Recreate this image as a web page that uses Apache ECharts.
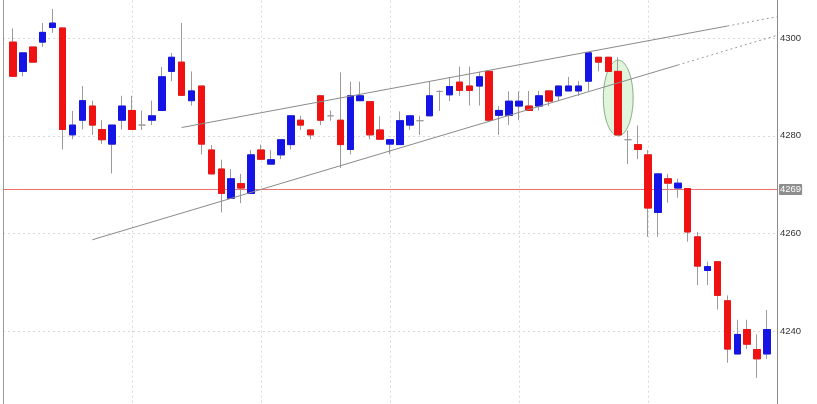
<!DOCTYPE html>
<html><head><meta charset="utf-8">
<script src="https://cdn.jsdelivr.net/npm/echarts@6/dist/echarts.min.js"></script>
<style>html,body{margin:0;padding:0;background:#fff;overflow:hidden;width:817px;height:404px}
#c{position:absolute;left:0;top:-60px;width:817px;height:490px}</style>
</head><body><div id="c"></div>
<script>
// ---- data ----
const categories = ['1','2','3','4','5','6','7','8','9','10','11','12','13','14','15','16','17','18','19','20',
 '21','22','23','24','25','26','27','28','29','30','31','32','33','34','35','36','37','38','39','40',
 '41','42','43','44','45','46','47','48','49','50','51','52','53','54','55','56','57','58','59','60',
 '61','62','63','64','65','66','67','68','69','70','71','72','73','74','75','76','77'];
const opens = [4299.2,4293.2,4298.2,4299.2,4302.2,4302.1,4280.2,4283.2,4286.1,4281.3,
 4278.3,4283.2,4285.2,4282.2,4283.2,4285.2,4293.2,4295.1,4287.2,4290.2,
 4277.1,4273.2,4267.2,4270.2,4268.2,4277.1,4274.2,4276.1,4278.2,4283.2,
 4281.2,4288.2,4284.1,4283.2,4277.2,4287.2,4287.0,4281.2,4278.3,4278.2,
 4282.2,4283.1,4284.1,4289.1,4288.4,4291.0,4290.2,4290.2,4293.2,4284.2,
 4284.2,4286.1,4286.1,4286.1,4289.2,4288.2,4289.2,4289.2,4291.2,4296.1,
 4296.1,4293.2,4279.2,4278.2,4276.1,4264.3,4271.2,4269.3,4269.2,4259.3,
 4252.4,4254.2,4246.2,4235.3,4240.3,4236.2,4235.3];
const closes = [4292.2,4297.0,4295.1,4301.2,4303.1,4281.3,4282.2,4287.2,4282.2,4279.2,
 4282.2,4286.1,4281.3,4282.2,4284.1,4292.1,4296.1,4288.3,4289.2,4278.3,
 4272.2,4268.2,4271.2,4269.3,4276.1,4275.2,4275.1,4279.2,4284.1,4282.2,
 4280.2,4283.2,4284.1,4278.2,4288.2,4288.2,4280.2,4279.3,4279.2,4283.1,
 4284.1,4283.1,4288.2,4289.1,4290.1,4289.3,4289.3,4292.1,4283.2,4285.2,
 4287.1,4287.1,4285.2,4288.2,4287.1,4290.2,4290.2,4290.2,4297.0,4295.1,
 4293.2,4280.2,4279.2,4277.2,4265.2,4272.2,4270.3,4270.3,4260.3,4253.3,
 4253.2,4247.3,4236.3,4239.3,4237.3,4234.3,4240.3];
const lows = [4292.2,4292.2,4295.1,4298.2,4301.1,4277.2,4279.3,4281.3,4280.2,4278.3,
 4272.3,4281.3,4281.3,4281.2,4282.2,4285.2,4291.2,4288.3,4286.2,4276.2,
 4272.2,4264.3,4267.2,4266.2,4268.2,4275.2,4274.2,4275.2,4277.2,4281.2,
 4279.3,4282.2,4283.1,4273.4,4276.2,4287.2,4279.3,4279.3,4276.2,4278.2,
 4281.2,4280.2,4284.1,4285.1,4287.1,4288.2,4286.2,4286.2,4283.2,4280.2,
 4282.2,4283.2,4285.2,4285.2,4286.1,4287.1,4289.2,4288.2,4289.2,4293.2,
 4293.2,4280.2,4274.2,4275.2,4259.3,4259.3,4266.3,4267.3,4258.3,4249.4,
 4249.4,4244.4,4233.5,4235.3,4236.3,4230.4,4234.3];
const highs = [4302.0,4297.0,4298.2,4303.1,4306.0,4302.1,4285.1,4290.2,4287.2,4283.2,
 4282.2,4288.2,4288.2,4285.2,4287.2,4294.1,4297.0,4303.1,4293.2,4290.2,
 4278.1,4275.1,4273.2,4272.2,4277.1,4278.2,4277.1,4279.2,4284.1,4284.1,
 4281.2,4288.2,4285.2,4293.0,4291.1,4291.1,4287.0,4284.0,4279.2,4285.0,
 4284.1,4284.1,4291.1,4289.3,4292.0,4294.2,4294.2,4293.1,4293.2,4286.1,
 4289.1,4289.1,4289.2,4289.2,4289.2,4290.2,4292.1,4291.2,4297.0,4296.1,
 4296.1,4296.1,4281.1,4282.1,4277.1,4272.2,4272.2,4271.2,4269.2,4260.3,
 4254.2,4254.2,4247.3,4242.3,4242.3,4239.3,4244.3];
const yTicks = [4240, 4260, 4280, 4300];
const refLevel = 4269;
// trend lines: [candle index, price]
const upperTrend = [[17, 4281.7], [72, 4302.5]];
const upperTrendExt = [[72, 4302.5], [77, 4304.4]];
const lowerTrend = [[8, 4258.7], [67, 4294.5]];
const lowerTrendExt = [[67, 4294.5], [77, 4300.6]];
// highlighted candle: [candle index, top price, bottom price]
const highlight = [61, 4295.5, 4280.0];
const firstVLine = 12, vLineEvery = 13;

// ---- build ----
const RED = '#f01212', BLUE = '#1414e6', WICK = '#9a9a9a';
const FONT = 'Liberation Sans, Arial, sans-serif';
const xData = [' '].concat(categories, ['  ']);
const nCat = xData.length;
const full = ['-'].concat(opens.map((o, i) => [o, closes[i], lows[i], highs[i]]), ['-']);
const bodies = ['-'].concat(opens.map((o, i) => o === closes[i] ? '-' :
  [o, closes[i], Math.min(o, closes[i]), Math.max(o, closes[i])]), ['-']);
const shift = arr => arr.map(p => [p[0] + 1, p[1]]);

const chart = echarts.init(document.getElementById('c'), null, {renderer: 'canvas'});
const lineStyleSolid = {color: '#8a8a8a', width: 1};
const lineStyleDot = {color: '#9a9a9a', width: 1, type: [2, 3]};
chart.setOption({
  animation: false,
  backgroundColor: '#fff',
  grid: {left: 3, right: 40, top: 0.62, bottom: 1.38, containLabel: false},
  xAxis: {
    type: 'category', data: xData, boundaryGap: false,
    axisLine: {show: false}, axisTick: {show: false}, axisLabel: {show: false},
    splitLine: {show: true,
      interval: (idx) => idx > 0 && idx < nCat - 1 && idx - 1 >= firstVLine && (idx - 1 - firstVLine) % vLineEvery === 0,
      lineStyle: {color: '#d8d8d8', width: 1, type: [2, 3]}}
  },
  yAxis: [{
    type: 'value', position: 'right', min: 4220, max: 4320, interval: 20,
    axisLine: {show: true, lineStyle: {color: '#8c8c8c', width: 1}},
    axisTick: {show: false},
    axisLabel: {margin: 3, fontSize: 9.5, color: '#333', fontFamily: FONT,
      formatter: v => yTicks.indexOf(v) >= 0 ? String(v) : ''},
    splitLine: {show: true, lineStyle: {color: '#d8d8d8', width: 1, type: [2, 3]}}
  }, {
    type: 'value', position: 'left', min: 4220, max: 4320, interval: 20,
    axisLine: {show: true, lineStyle: {color: '#9a9a9a', width: 1}},
    axisTick: {show: false}, axisLabel: {show: false}, splitLine: {show: false}
  }],
  series: [
    {
      type: 'custom', z: 1, silent: true,
      data: [[highlight[0] + 1, highlight[1], highlight[2]]],
      encode: {x: 0, y: [1, 2]},
      renderItem: (params, api) => {
        const top = api.coord([api.value(0), api.value(1)]);
        const bot = api.coord([api.value(0), api.value(2)]);
        const cx = top[0], cy = (top[1] + bot[1]) / 2, ry = (bot[1] - top[1]) / 2;
        const rx = api.size([1, 0])[0] * 1.5;
        const pts = [];
        for (let k = 0; k < 90; k++) {
          const a = k / 90 * Math.PI * 2;
          pts.push([cx + rx * Math.cos(a), cy + ry * Math.sin(a)]);
        }
        return {type: 'polygon', shape: {points: pts},
          style: {fill: 'rgba(205,238,196,0.6)', stroke: '#86ad82', lineWidth: 1}};
      }
    },
    {
      type: 'line', z: 1, silent: true, symbol: 'none',
      data: [[0, refLevel], [nCat - 1, refLevel]],
      itemStyle: {color: '#ec7272'},
      lineStyle: {color: '#ec7272', width: 1},
      endLabel: {show: true, distance: 2, formatter: () => String(refLevel),
        backgroundColor: '#8e8e8e', color: '#fff', fontSize: 9.5, fontFamily: FONT,
        padding: [1, 1, 0, 1], borderRadius: 1}
    },
    {
      type: 'candlestick', barWidth: 7, data: full,
      itemStyle: {color: WICK, color0: WICK, borderColor: WICK, borderColor0: WICK, borderColorDoji: WICK, borderWidth: 1}
    },
    {
      type: 'candlestick', barWidth: 7, data: bodies,
      itemStyle: {color: BLUE, color0: RED, borderColor: BLUE, borderColor0: RED, borderWidth: 1}
    },
    {type: 'line', data: shift(upperTrend), symbol: 'none', lineStyle: lineStyleSolid, z: 3},
    {type: 'line', data: shift(upperTrendExt), symbol: 'none', lineStyle: lineStyleDot, z: 3},
    {type: 'line', data: shift(lowerTrend), symbol: 'none', lineStyle: lineStyleSolid, z: 3},
    {type: 'line', data: shift(lowerTrendExt), symbol: 'none', lineStyle: lineStyleDot, z: 3}
  ]
});
</script></body></html>
